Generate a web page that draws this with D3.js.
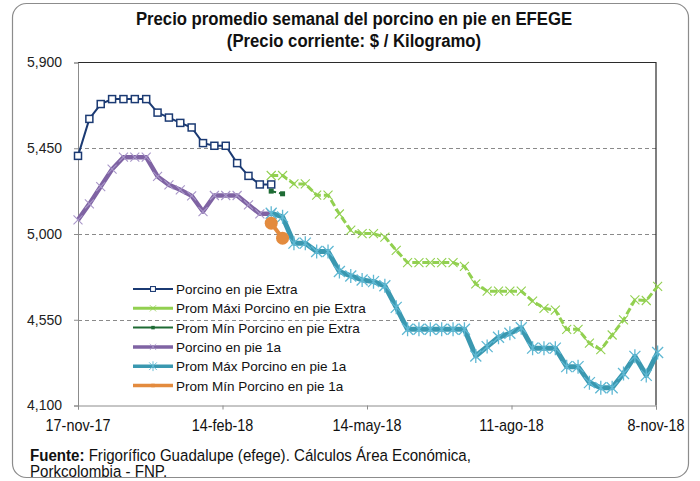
<!DOCTYPE html>
<html>
  <head>
    <title>Precio porcino EFEGE</title>
    <meta http-equiv="Content-Type" content="text/html; charset=UTF-8">
    <script src="https://d3js.org/d3.v7.min.js"></script>
    <style>
      body { margin: 0; background: #fff; }
      text { font-family: "Liberation Sans", Arial, sans-serif; }
    </style>
  </head>

  <body>

    <div id="chart"></div>

    <script>
      // weekly dates (Fridays)
      var weeks = [
        "2017-11-17","2017-11-24","2017-12-01","2017-12-08","2017-12-15","2017-12-22","2017-12-29",
        "2018-01-05","2018-01-12","2018-01-19","2018-01-26",
        "2018-02-02","2018-02-09","2018-02-16","2018-02-23",
        "2018-03-02","2018-03-09","2018-03-16","2018-03-23","2018-03-30",
        "2018-04-06","2018-04-13","2018-04-20","2018-04-27",
        "2018-05-04","2018-05-11","2018-05-18","2018-05-25",
        "2018-06-01","2018-06-08","2018-06-15","2018-06-22","2018-06-29",
        "2018-07-06","2018-07-13","2018-07-20","2018-07-27",
        "2018-08-03","2018-08-10","2018-08-17","2018-08-24","2018-08-31",
        "2018-09-07","2018-09-14","2018-09-21","2018-09-28",
        "2018-10-05","2018-10-12","2018-10-19","2018-10-26",
        "2018-11-02","2018-11-09"
      ];

      // weeks 0-17
      var extra = [5410,5604,5682,5708,5708,5708,5708,5637,5611,5583,5559,5477,5463,5463,5372,5305,5260,5260];
      var primera = [5074,5158,5249,5340,5403,5403,5403,5302,5258,5232,5200,5118,5202,5202,5202,5153,5106,5106];
      // weeks 17-18
      var minExtra = [5225,5211];
      var min1a = [5057,4978];
      // weeks 17-51
      var maxExtra = [5307,5307,5263,5263,5204,5204,5105,5020,5002,5002,4984,4914,4850,4850,4850,4850,4850,4830,
                      4738,4700,4700,4700,4700,4648,4610,4600,4499,4500,4427,4393,4470,4549,4654,4651,4725];
      var max1a = [5109,5090,4952,4952,4908,4908,4803,4780,4759,4750,4728,4615,4500,4500,4500,4500,4500,4500,
                   4360,4409,4458,4479,4508,4401,4401,4401,4304,4304,4220,4193,4193,4268,4358,4258,4378];

      var yTicks = [4100, 4550, 5000, 5450, 5900];
      var xTicks = ["2017-11-17","2018-02-14","2018-05-14","2018-08-11","2018-11-08"];
      var xTickLabels = ["17-nov-17","14-feb-18","14-may-18","11-ago-18","8-nov-18"];

      var series = [
        {name: "Porcino en pie Extra", values: extra, first: 0, color: "#1b3a73", width: 2, dash: null, marker: "square", mcolor: "#1b3a73"},
        {name: "Prom Máxi Porcino en pie Extra", values: maxExtra, first: 17, color: "#92d050", width: 3, dash: "7,3", marker: "x", mcolor: "#92d050"},
        {name: "Prom Mín Porcino en pie Extra", values: minExtra, first: 17, color: "#1e6b34", width: 2, dash: "5,3", marker: "dot", mcolor: "#1e6b34"},
        {name: "Porcino en pie 1a", values: primera, first: 0, color: "#7f63a3", width: 4.5, dash: null, marker: "x", mcolor: "#a896c8"},
        {name: "Prom Máx Porcino en pie 1a", values: max1a, first: 17, color: "#3a98b0", width: 5, dash: null, marker: "star", mcolor: "#5fb8d3"},
        {name: "Prom Mín Porcino en pie 1a", values: min1a, first: 17, color: "#e38b3e", width: 4, dash: null, marker: "circle", mcolor: "#e38b3e"}
      ];

      var W = 700, H = 481;
      var plotL = 78, plotR = 656, plotT = 62.5, plotB = 405.5;
      var parse = d3.timeParse("%Y-%m-%d");

      var svg = d3.select("#chart").append("svg").attr("width", W).attr("height", H);

      // outer frame
      svg.append("rect").attr("x", 12.5).attr("y", 3.5).attr("width", 676).attr("height", 474)
        .attr("rx", 14).attr("fill", "#fff").attr("stroke", "#8c8c8c").attr("stroke-width", 1.2);

      var x = d3.scaleTime().domain([parse("2017-11-17"), parse("2018-11-08")]).range([plotL, plotR]);
      var y = d3.scaleLinear().domain([4100, 5900]).range([plotB, plotT]);

      // horizontal squeeze stands in for Arial Narrow
      function narrowText(px, py, anchor, squeeze) {
        return svg.append("g").attr("transform", "translate(" + px + "," + py + ") scale(" + squeeze + ",1)")
          .append("text").attr("text-anchor", anchor);
      }

      // title
      narrowText(354, 25, "middle", 0.88).attr("font-weight", "bold").attr("font-size", 19).attr("fill", "#111")
        .text("Precio promedio semanal del porcino en pie en EFEGE");
      narrowText(354, 47, "middle", 0.88).attr("font-weight", "bold").attr("font-size", 19).attr("fill", "#111")
        .text("(Precio corriente: $ / Kilogramo)");

      // gridlines
      svg.append("g").selectAll("line").data(yTicks.filter(function (d) { return d > 4100 && d < 5900; }))
        .join("line")
        .attr("x1", plotL).attr("x2", plotR)
        .attr("y1", function (d) { return Math.round(y(d)) + 0.5; }).attr("y2", function (d) { return Math.round(y(d)) + 0.5; })
        .attr("stroke", "#8a8a8a").attr("stroke-dasharray", "4,3");

      // plot border top/right
      svg.append("path").attr("d", "M" + plotL + "," + plotT + "H" + plotR + "V" + plotB)
        .attr("fill", "none").attr("stroke", "#2b2b2b").attr("stroke-width", 1.2);

      // y axis
      var yAxis = svg.append("g").attr("transform", "translate(" + plotL + ",0)")
        .call(d3.axisLeft(y).tickValues(yTicks).tickSize(4).tickPadding(12).tickFormat(d3.format(",")));
      yAxis.select(".domain").attr("stroke", "#8c8c8c");
      yAxis.selectAll(".tick line").attr("stroke", "#8c8c8c");
      yAxis.selectAll("text").attr("font-family", null).attr("font-size", 14).attr("fill", "#222");

      // x axis
      var xAxis = svg.append("g").attr("transform", "translate(0," + plotB + ")")
        .call(d3.axisBottom(x).tickValues(xTicks.map(parse)).tickSize(4).tickFormat(""));
      xAxis.select(".domain").attr("stroke", "#8c8c8c");
      xAxis.selectAll(".tick line").attr("stroke", "#8c8c8c");
      xTicks.forEach(function (t, i) {
        narrowText(x(parse(t)), 431, "middle", 0.9).attr("font-size", 16).attr("fill", "#111").text(xTickLabels[i]);
      });

      function drawMarker(g, type, color) {
        if (type === "square") {
          g.append("rect").attr("x", -3.5).attr("y", -3.5).attr("width", 7).attr("height", 7)
            .attr("fill", "#fff").attr("stroke", color).attr("stroke-width", 1.5);
        } else if (type === "x") {
          g.append("path").attr("d", "M-4.5,-4.5L4.5,4.5M-4.5,4.5L4.5,-4.5")
            .attr("stroke", color).attr("stroke-width", 1.1).attr("fill", "none");
        } else if (type === "star") {
          g.append("path").attr("d", "M-5.5,-5.5L5.5,5.5M-5.5,5.5L5.5,-5.5M0,-7V7")
            .attr("stroke", color).attr("stroke-width", 1.3).attr("fill", "none");
        } else if (type === "dot") {
          g.append("rect").attr("x", -2.5).attr("y", -2.5).attr("width", 5).attr("height", 5).attr("fill", color);
        } else if (type === "circle") {
          g.append("circle").attr("r", 6.5).attr("fill", color);
        }
      }

      var line = d3.line()
        .x(function (d) { return x(d.date); })
        .y(function (d) { return y(d.value); });

      series.forEach(function (s) {
        var pts = s.values.map(function (v, i) { return {date: parse(weeks[s.first + i]), value: v}; });
        var g = svg.append("g");
        g.append("path").datum(pts).attr("d", line)
          .attr("fill", "none").attr("stroke", s.color).attr("stroke-width", s.width)
          .attr("stroke-dasharray", s.dash).attr("stroke-linejoin", "round");
        g.selectAll("g.m").data(pts).join("g").attr("class", "m")
          .attr("transform", function (d) { return "translate(" + x(d.date) + "," + y(d.value) + ")"; })
          .each(function () { drawMarker(d3.select(this), s.marker, s.mcolor); });
      });

      // legend
      var legend = svg.append("g").attr("transform", "translate(133,289)");
      series.forEach(function (s, i) {
        var row = legend.append("g").attr("transform", "translate(0," + (i * 19.3) + ")");
        row.append("line").attr("x1", 0).attr("x2", 40).attr("stroke", s.color)
          .attr("stroke-width", Math.min(s.width, 3.5));
        var m = row.append("g").attr("transform", "translate(20,0) scale(0.7)");
        drawMarker(m, s.marker === "circle" ? "dot" : s.marker, s.mcolor);
        row.append("text").attr("x", 43).attr("y", 5)
          .attr("font-size", 13.5).attr("fill", "#111").text(s.name);
      });

      // source note
      var note = narrowText(30, 461, "start", 0.915).attr("font-size", 16.5).attr("fill", "#111");
      note.append("tspan").attr("font-weight", "bold").text("Fuente:");
      note.append("tspan").text(" Frigorífico Guadalupe (efege). Cálculos Área Económica,");
      narrowText(30, 477, "start", 0.915).attr("font-size", 16.5).attr("fill", "#111").text("Porkcolombia  - FNP.");
    </script>
  </body>
</html>
